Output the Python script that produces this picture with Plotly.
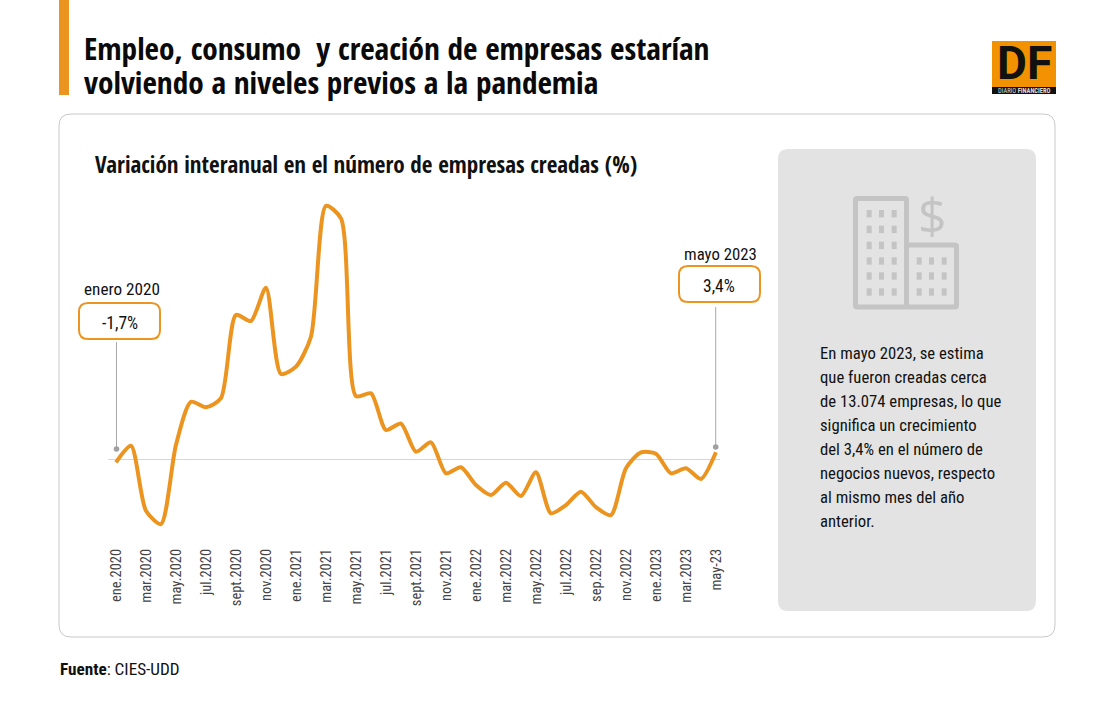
import plotly.graph_objects as go

W = 1095
H = 720
FONT = "Roboto Condensed"
FONT_BOLD = "Open Sans Condensed"
ORANGE = "#ec9420"
GREY_ICON = "#c4c4c4"

meses = []
for anio, nombres in [
    ("2020", ["ene", "feb", "mar", "abr", "may", "jun", "jul", "ago", "sept", "oct", "nov", "dic"]),
    ("2021", ["ene", "feb", "mar", "abr", "may", "jun", "jul", "ago", "sept", "oct", "nov", "dic"]),
    ("2022", ["ene", "feb", "mar", "abr", "may", "jun", "jul", "ago", "sep", "oct", "nov", "dic"]),
    ("2023", ["ene", "feb", "mar", "abr"]),
]:
    meses += [f"{n}.{anio}" for n in nombres]
meses.append("may-23")

variacion = [
    -1.7, 6.8, -26.4, -33.2, 7.1, 29.2, 26.4, 31.0, 73.5, 70.4, 87.4, 43.4,
    47.1, 62.4, 129.1, 122.8, 32.1, 33.5, 14.8, 18.1, 3.7, 8.5, -7.3, -4.2,
    -13.3, -18.4, -12.1, -18.9, -6.8, -27.7, -23.5, -16.7, -24.6, -28.6, -4.7, 3.4,
    2.7, -7.3, -4.7, -10.2, 3.4,
]

titulo = ["Empleo, consumo  y creación de empresas estarían", "volviendo a niveles previos a la pandemia"]
subtitulo = "Variación interanual en el número de empresas creadas (%)"
texto_panel = [
    "En mayo 2023, se estima",
    "que fueron creadas cerca",
    "de 13.074 empresas, lo que",
    "significa un crecimiento",
    "del 3,4% en el número de",
    "negocios nuevos, respecto",
    "al mismo mes del año",
    "anterior.",
]


def px(x):
    return x / W


def py(y):
    return 1 - y / H


def rect(x0, y0, x1, y1, fill, line=None, width=0):
    return dict(type="rect", xref="paper", yref="paper", x0=px(x0), x1=px(x1), y0=py(y0), y1=py(y1),
                fillcolor=fill, line=dict(color=line, width=width), layer="below")


def rrect(x0, y0, x1, y1, r, fill="rgba(0,0,0,0)", line=None, width=0, layer="below"):
    pts = [
        f"M {px(x0 + r)} {py(y0)}", f"L {px(x1 - r)} {py(y0)}", f"Q {px(x1)} {py(y0)} {px(x1)} {py(y0 + r)}",
        f"L {px(x1)} {py(y1 - r)}", f"Q {px(x1)} {py(y1)} {px(x1 - r)} {py(y1)}",
        f"L {px(x0 + r)} {py(y1)}", f"Q {px(x0)} {py(y1)} {px(x0)} {py(y1 - r)}",
        f"L {px(x0)} {py(y0 + r)}", f"Q {px(x0)} {py(y0)} {px(x0 + r)} {py(y0)}", "Z",
    ]
    return dict(type="path", xref="paper", yref="paper", path=" ".join(pts), fillcolor=fill,
                line=dict(color=line, width=width), layer=layer)


def vline(x, y0, y1):
    return dict(type="line", xref="paper", yref="paper", x0=px(x), x1=px(x), y0=py(y0), y1=py(y1),
                line=dict(color="#a8a8a8", width=1), layer="below")


def dot(x, y, r=2.8):
    return dict(type="circle", xref="paper", yref="paper", x0=px(x - r), x1=px(x + r), y0=py(y - r), y1=py(y + r),
                fillcolor="#a0a0a0", line=dict(width=0), layer="below")


def label(x, y, text, size=15, color="#111111", xanchor="left", family=FONT):
    return dict(x=px(x), y=py(y), xref="paper", yref="paper", text=text, showarrow=False, xanchor=xanchor,
                yanchor="middle", font=dict(family=family, size=size, color=color), borderpad=0)


fig = go.Figure()

fig.add_trace(go.Scatter(
    x=list(range(len(meses))),
    y=variacion,
    mode="lines",
    line=dict(color=ORANGE, width=4, shape="spline", smoothing=0.7),
    hoverinfo="skip",
    showlegend=False,
))

shapes = [
    rect(59, 0, 69, 95, ORANGE),
    rrect(59, 114, 1055, 637, 12, fill="white", line="#c9c9c9", width=1),
    rrect(778, 149, 1036, 611, 10, fill="#e3e3e3"),
    # logo
    rect(992, 41, 1056, 94, "#f39200"),
    rect(992, 87, 1056, 94, "#111111"),
    # llamadas
    rrect(79, 303, 160, 339, 9, line=ORANGE, width=2, layer="above"),
    rrect(679, 266, 760, 302, 9, line=ORANGE, width=2, layer="above"),
    vline(116.5, 342, 449),
    vline(715.7, 307, 447),
    dot(116.5, 449),
    dot(715.7, 447),
    # icono edificios
    rrect(855.5, 198.5, 906.5, 307, 1.5, line=GREY_ICON, width=5),
    rrect(906.5, 245, 956.5, 307, 1.5, line=GREY_ICON, width=5),
]
for col in [866.7, 879, 891.7]:
    for fila in [210, 225.7, 241.7, 257.3, 272.3, 288.3]:
        shapes.append(rect(col, fila, col + 5, fila + 7.4, GREY_ICON))
for col in [916.7, 929, 941.7]:
    for fila in [257.3, 272.3, 288.3]:
        shapes.append(rect(col, fila, col + 5, fila + 7.4, GREY_ICON))

annotations = [
    label(83, 48.5, f"<b>{titulo[0]}</b>", size=31.3, color="#0a0a0a", family=FONT_BOLD),
    label(83, 81.5, f"<b>{titulo[1]}</b>", size=31.3, color="#0a0a0a", family=FONT_BOLD),
    label(94, 164.5, f"<b>{subtitulo}</b>", size=23.1, family=FONT_BOLD),
    label(59, 669, "<b>Fuente</b>: CIES-UDD", size=17.2),
    label(122, 289, "enero 2020", size=17.2, xanchor="center"),
    label(119.5, 323, "-1,7%", size=17.5, xanchor="center"),
    label(720, 254, "mayo 2023", size=16.8, xanchor="center"),
    label(719, 286, "3,4%", size=17.5, xanchor="center"),
    label(932, 215, "$", size=50, color=GREY_ICON, xanchor="center", family="Open Sans"),
    label(1024, 63, "<b>DF</b>", size=46, color="#111111", xanchor="center", family="Roboto"),
    label(1024, 90.5, "DIARIO <b>FINANCIERO</b>", size=6.5, color="#dddddd", xanchor="center"),
]
for i, linea in enumerate(texto_panel):
    annotations.append(label(819, 353.5 + i * 24, linea, size=16.7))

# y pixel = 459 - 1.96 * valor, plot area from 200 to 545
fig.update_layout(
    width=W,
    height=H,
    margin=dict(l=0, r=0, t=0, b=0),
    paper_bgcolor="white",
    plot_bgcolor="rgba(0,0,0,0)",
    showlegend=False,
    shapes=shapes,
    annotations=annotations,
    xaxis=dict(
        domain=[px(108), px(720)],
        range=[-0.53, 40.27],
        tickmode="array",
        tickvals=list(range(0, len(meses), 2)),
        ticktext=meses[::2],
        tickangle=-90,
        ticks="",
        automargin=False,
        showgrid=False,
        zeroline=False,
        showline=False,
        tickfont=dict(family=FONT, size=14.5, color="#444444"),
    ),
    yaxis=dict(
        domain=[py(545), py(200)],
        range=[(459 - 545) / 1.96, (459 - 200) / 1.96],
        showticklabels=False,
        ticks="",
        automargin=False,
        showgrid=False,
        zeroline=True,
        zerolinecolor="#d6d6d6",
        zerolinewidth=1,
    ),
)

fig.write_html("out.html", config=dict(displayModeBar=False), post_script="document.body.style.margin='0';")
